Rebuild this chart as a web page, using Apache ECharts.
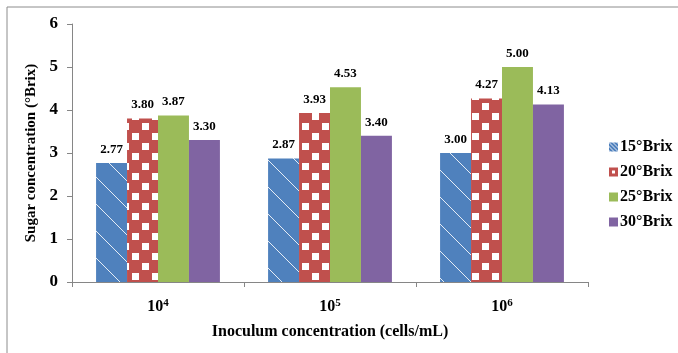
<!DOCTYPE html>
<html>
<head>
<meta charset="utf-8">
<script src="https://cdn.jsdelivr.net/npm/echarts@6/dist/echarts.min.js"></script>
<style>html,body{margin:0;padding:0;background:#fff;}#c{width:678px;height:353px;}</style>
</head>
<body>
<div id="c"></div>
<script>
var categories = ['10^4', '10^5', '10^6'];
var seriesNames = ['15°Brix', '20°Brix', '25°Brix', '30°Brix'];
var brix15 = [2.77, 2.87, 3.00];
var brix20 = [3.80, 3.93, 4.27];
var brix25 = [3.87, 4.53, 5.00];
var brix30 = [3.30, 3.40, 4.13];
var yTicks = [0, 1, 2, 3, 4, 5, 6];

var FONT = '"Liberation Serif", "Times New Roman", serif';

function stripePattern(s) {
  var c = document.createElement('canvas');
  c.width = s; c.height = s;
  var g = c.getContext('2d');
  g.fillStyle = '#4F81BD'; g.fillRect(0, 0, s, s);
  g.strokeStyle = 'rgba(255,255,255,0.85)'; g.lineWidth = 1;
  g.beginPath();
  g.moveTo(-2, -2); g.lineTo(s + 2, s + 2);
  g.moveTo(-2 - s, -2); g.lineTo(2, s + 2);
  g.moveTo(s - 2, -2); g.lineTo(2 * s + 2, s + 2);
  g.stroke();
  return c;
}
function checkerPattern() {
  var s = 20, c = document.createElement('canvas');
  c.width = s; c.height = s;
  var g = c.getContext('2d');
  g.fillStyle = '#C0504D'; g.fillRect(0, 0, s, s);
  g.fillStyle = '#ffffff';
  g.fillRect(2, 3, 7, 7);
  g.fillRect(12, 13, 7, 7);
  return c;
}
function checkerIcon() {
  var s = 9, c = document.createElement('canvas');
  c.width = s; c.height = s;
  var g = c.getContext('2d');
  g.fillStyle = '#C0504D'; g.fillRect(0, 0, s, s);
  g.fillStyle = '#ffffff';
  g.fillRect(3, 3, 3, 3);
  return c;
}

var fills = [
  { image: stripePattern(27), repeat: 'repeat' },
  { image: checkerPattern(), repeat: 'repeat' },
  '#9BBB59',
  '#8064A2'
];
var iconFills = [
  { image: stripePattern(4), repeat: 'repeat' },
  { image: checkerIcon(), repeat: 'repeat' },
  '#9BBB59',
  '#8064A2'
];
var dataSets = [brix15, brix20, brix25, brix30];

var chart = echarts.init(document.getElementById('c'));
chart.setOption({
  animation: false,
  backgroundColor: '#fff',
  graphic: [{
    type: 'rect', shape: { x: 7, y: 7, width: 700, height: 400 },
    style: { fill: 'none', stroke: '#8c8c8c', lineWidth: 1 }, silent: true
  }],
  legend: {
    orient: 'vertical', left: 604, top: 134, itemWidth: 9, itemHeight: 9, itemGap: 9,
    icon: 'rect',
    textStyle: { fontFamily: FONT, fontWeight: 'bold', fontSize: 16, color: '#000', padding: [0, 0, 0, -3] },
    data: seriesNames.map(function (n, i) { return { name: n, itemStyle: { color: iconFills[i] } }; })
  },
  grid: { left: 72, right: 90, top: 24, bottom: 71 },
  xAxis: {
    type: 'category', data: categories,
    axisLine: { lineStyle: { color: '#868686' } },
    axisTick: { show: true, length: 5, lineStyle: { color: '#868686' } },
    axisLabel: {
      margin: 16,
      formatter: function (v) { var p = v.split('^'); return '{a|' + p[0] + '}{b|' + p[1] + '}'; },
      rich: {
        a: { fontFamily: FONT, fontWeight: 'bold', fontSize: 16, color: '#000' },
        b: { fontFamily: FONT, fontWeight: 'bold', fontSize: 11, color: '#000', verticalAlign: 'top', padding: [0, 0, 6, 0] }
      }
    },
    name: 'Inoculum concentration (cells/mL)', nameLocation: 'middle', nameGap: 42,
    nameTextStyle: { fontFamily: FONT, fontWeight: 'bold', fontSize: 16, color: '#000' }
  },
  yAxis: {
    type: 'value', min: yTicks[0], max: yTicks[yTicks.length - 1], interval: 1,
    splitLine: { show: false },
    axisLine: { show: true, lineStyle: { color: '#868686' } },
    axisTick: { show: true, length: 5, lineStyle: { color: '#868686' } },
    axisLabel: { margin: 14, fontFamily: FONT, fontWeight: 'bold', fontSize: 17, color: '#000' },
    name: 'Sugar concentration (°Brix)', nameLocation: 'middle', nameGap: 31,
    nameTextStyle: { fontFamily: FONT, fontWeight: 'bold', fontSize: 15, color: '#000' }
  },
  series: dataSets.map(function (d, i) {
    return {
      name: seriesNames[i], type: 'bar', data: d,
      barGap: '0%', barCategoryGap: '28%',
      itemStyle: { color: fills[i] },
      label: {
        show: true, position: 'top', distance: 7,
        formatter: function (p) { return p.value.toFixed(2); },
        fontFamily: FONT, fontWeight: 'bold', fontSize: 13, color: '#000'
      }
    };
  })
});
</script>
</body>
</html>
